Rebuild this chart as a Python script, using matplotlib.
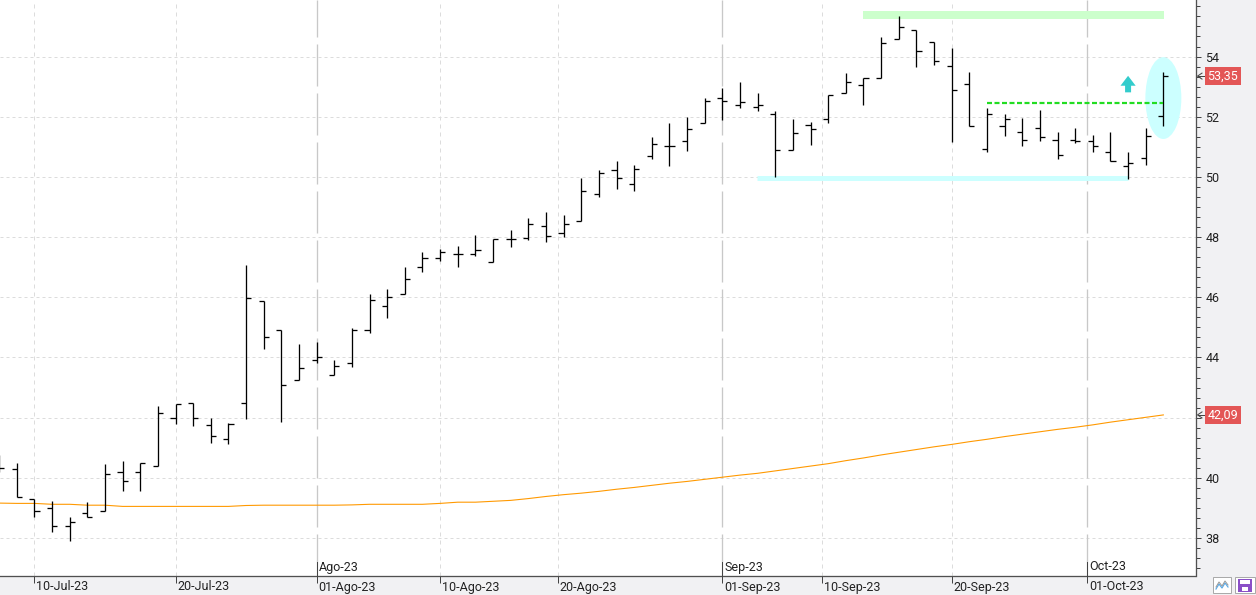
import numpy as np
import pandas as pd
import matplotlib.pyplot as plt
from matplotlib.patches import Rectangle, Ellipse, Polygon
from matplotlib.lines import Line2D
from matplotlib.transforms import blended_transform_factory

plt.rcParams['font.family'] = ['Roboto', 'DejaVu Sans']
plt.rcParams['lines.scale_dashes'] = False

# trading days shown on the chart
dates = pd.bdate_range("2023-07-06", "2023-10-06")

opens = [40.60, 40.29, 39.30, 38.99, 38.39, 38.83, 38.91, 40.19, 40.19, 40.38,
         41.98, 42.47, 41.74, 41.28, 42.47, 45.86, 44.90, 43.24, 43.90, 43.41,
         43.80, 44.90, 45.71, 46.10, 47.00, 47.29, 47.45, 47.45, 47.16, 47.93,
         47.96, 48.36, 48.13, 48.52, 49.42, 50.22, 49.75, 50.68, 51.02, 51.19,
         51.78, 52.62, 52.38, 52.31, 52.10, 50.88, 51.71, 51.91, 52.80, 53.04,
         53.28, 54.57, 54.88, 54.47, 53.68, 53.10, 50.92, 51.68, 51.50, 51.61,
         51.24, 51.24, 51.20, 50.84, 50.35, 50.63, 52.01]
highs = [40.75, 40.50, 39.30, 39.23, 38.69, 39.20, 40.46, 40.56, 40.48, 42.39,
         42.44, 42.47, 41.98, 41.81, 47.07, 45.86, 44.90, 44.44, 44.50, 43.90,
         44.99, 46.11, 46.26, 47.00, 47.49, 47.59, 47.69, 48.06, 47.93, 48.23,
         48.62, 48.82, 48.72, 49.95, 50.22, 50.52, 50.39, 51.32, 51.79, 51.99,
         52.62, 52.96, 53.14, 52.78, 52.20, 51.92, 51.82, 52.71, 53.45, 53.28,
         54.64, 55.35, 54.88, 54.47, 54.27, 53.49, 52.30, 52.08, 51.95, 52.23,
         51.50, 51.63, 51.40, 51.50, 50.84, 51.63, 53.49]
lows = [40.20, 39.37, 38.71, 38.21, 37.91, 38.69, 38.91, 39.57, 39.57, 40.38,
        41.78, 41.73, 41.17, 41.13, 41.94, 44.29, 41.87, 43.24, 43.80, 43.41,
        43.69, 44.80, 45.32, 46.10, 46.85, 47.20, 46.99, 47.37, 47.16, 47.68,
        47.90, 47.85, 48.01, 48.52, 49.32, 49.61, 49.54, 50.61, 50.37, 50.87,
        51.78, 51.89, 52.30, 52.20, 50.01, 50.88, 51.06, 51.80, 52.78, 52.40,
        53.28, 54.57, 53.66, 53.73, 51.17, 51.70, 50.82, 51.37, 51.03, 51.20,
        50.59, 51.12, 50.83, 50.52, 49.93, 50.39, 51.70]
closes = [40.32, 39.37, 38.90, 38.39, 38.52, 38.69, 40.12, 39.89, 40.48, 42.14,
          42.44, 41.98, 41.38, 41.79, 45.96, 44.69, 43.10, 43.64, 44.00, 43.70,
          44.90, 45.90, 46.01, 46.61, 47.29, 47.49, 47.45, 47.57, 47.93, 47.93,
          48.42, 48.03, 48.42, 49.52, 50.12, 49.95, 50.25, 51.08, 51.02, 51.58,
          52.51, 52.51, 52.48, 52.38, 50.91, 51.47, 51.58, 52.71, 53.14, 53.28,
          54.44, 54.97, 54.17, 53.84, 52.89, 51.70, 52.08, 51.92, 51.24, 51.31,
          50.74, 51.20, 51.03, 50.52, 50.45, 51.35, 53.35]
mov_avg = [39.16, 39.15, 39.15, 39.12, 39.12, 39.09, 39.09, 39.05, 39.05, 39.05,
           39.05, 39.05, 39.05, 39.05, 39.08, 39.09, 39.09, 39.09, 39.09, 39.09,
           39.10, 39.12, 39.12, 39.12, 39.12, 39.15, 39.19, 39.19, 39.22, 39.25,
           39.31, 39.38, 39.44, 39.49, 39.55, 39.62, 39.68, 39.75, 39.82, 39.88,
           39.95, 40.02, 40.09, 40.15, 40.23, 40.31, 40.39, 40.47, 40.57, 40.66,
           40.76, 40.85, 40.94, 41.03, 41.11, 41.20, 41.28, 41.37, 41.45, 41.53,
           41.61, 41.68, 41.76, 41.85, 41.93, 42.01, 42.09]

tick_dates = ["2023-07-10", "2023-07-20", "2023-08-01", "2023-08-10", "2023-08-20",
              "2023-09-01", "2023-09-10", "2023-09-20", "2023-10-01"]
tick_labels = ["10-Jul-23", "20-Jul-23", "01-Ago-23", "10-Ago-23", "20-Ago-23",
               "01-Sep-23", "10-Sep-23", "20-Sep-23", "01-Oct-23"]
month_dates = ["2023-08-01", "2023-09-01", "2023-10-01"]
month_labels = ["Ago-23", "Sep-23", "Oct-23"]

# hand drawn marks on the chart
top_band = (55.25, 55.51, "2023-09-13", "2023-10-06")
support = (49.95, "2023-09-05", "2023-10-04")
breakout = (52.45, "2023-09-22", "2023-10-06")
last_price = 53.35
last_ma = 42.09

PX = 0.72  # points per pixel at 100 dpi
W, H = 1256, 595

fig = plt.figure(figsize=(W / 100, H / 100), dpi=100, facecolor="#f1f1f3")
ax = fig.add_axes([0, 19 / H, 1195.5 / W, 576 / H])
ax.set_facecolor("white")

x = np.arange(len(dates))
ords = np.array([d.toordinal() for d in dates])


def to_idx(d):
    return np.interp(pd.Timestamp(d).toordinal(), ords, x)


step = 17.64
x_left = 0.05
ax.set_xlim(x_left, x_left + 1195.5 / step)
ax.set_ylim(36.737, 55.879)

# grid
for v in range(38, 56, 2):
    ax.axhline(v, color="#dcdcdc", lw=1 * PX, dashes=(3 * PX, 3 * PX), zorder=0)
tick_pos = [to_idx(d) for d in tick_dates]
month_pos = [to_idx(d) for d in month_dates]
for p in tick_pos:
    if any(abs(p - m) < 0.01 for m in month_pos):
        ax.axvline(p, color="#c8c8c8", lw=1.3 * PX, dashes=(42 * PX, 7 * PX), zorder=0)
    else:
        ax.axvline(p, color="#dcdcdc", lw=1 * PX, dashes=(4 * PX, 4 * PX), zorder=0)

# annotations drawn by hand
ax.add_patch(Rectangle((to_idx(top_band[2]) - 0.05, top_band[0]),
                       to_idx(top_band[3]) - to_idx(top_band[2]) + 0.1,
                       top_band[1] - top_band[0], fc="#ccffcc", ec="none", zorder=1))
ax.plot([to_idx(support[1]) - 0.05, to_idx(support[2])], [support[0], support[0]],
        color="#ccffff", lw=5 * PX, solid_capstyle="butt", zorder=1)
ax.add_patch(Ellipse((x[-1], 52.62), 2.04, 2.72, fc="#ccffff", ec="none", zorder=1))
cx = x[-3] + 0.0
ax.add_patch(Polygon([(cx - 0.17, 52.81), (cx + 0.17, 52.81), (cx + 0.17, 53.03),
                      (cx + 0.43, 53.03), (cx, 53.36), (cx - 0.43, 53.03),
                      (cx - 0.17, 53.03)], closed=True, fc="#33cccc", ec="none", zorder=1))

# moving average
ax.plot(x, mov_avg, color="#ff9900", lw=1.1 * PX, zorder=2)

# OHLC bars
tw = 0.29
ax.vlines(x, lows, highs, color="black", lw=1.3 * PX, zorder=3)
ax.hlines(opens, x - tw, x, color="black", lw=1.3 * PX, zorder=3)
ax.hlines(closes, x, x + tw, color="black", lw=1.3 * PX, zorder=3)

ax.plot([to_idx(breakout[1]), to_idx(breakout[2])], [breakout[0], breakout[0]],
        color="#22dd22", lw=2.2 * PX, dashes=(5 * PX, 2.5 * PX), zorder=4)

# spines and ticks
for s in ["left", "top"]:
    ax.spines[s].set_visible(False)
for s in ["right", "bottom"]:
    ax.spines[s].set_color("#505050")
    ax.spines[s].set_linewidth(1.3 * PX)

ax.yaxis.tick_right()
ax.set_yticks(np.arange(38, 56, 2))
# 42 sits under the average's price tag
ax.set_yticklabels(["" if v == 42 else str(v) for v in range(38, 56, 2)])
ax.set_yticks(38 + np.arange(-3, 54) / 3, minor=True)
ax.tick_params(axis="y", which="major", length=5 * PX, width=1 * PX, color="#444444",
               labelsize=9, labelcolor="#222222", pad=5 * PX)
ax.tick_params(axis="y", which="minor", length=3.5 * PX, width=1 * PX, color="#444444")

ax.set_xticks(tick_pos)
ax.set_xticklabels([])
ax.tick_params(axis="x", length=7 * PX, width=1 * PX, color="#444444", direction="out")

for p, lab in zip(tick_pos, tick_labels):
    ax.annotate(lab, xy=(p, 0), xycoords=("data", "axes fraction"), xytext=(2, -11),
                textcoords="offset pixels", ha="left", va="center", fontsize=9,
                color="#222222", annotation_clip=False)

trans = blended_transform_factory(ax.transData, ax.transAxes)
for p, lab in zip(month_pos, month_labels):
    ax.plot([p, p], [0, 14 / 576], transform=trans, color="#444444", lw=1 * PX,
            clip_on=False, zorder=5)
    ax.annotate(lab, xy=(p, 0), xycoords=("data", "axes fraction"), xytext=(2, 9),
                textcoords="offset pixels", ha="left", va="center", fontsize=9,
                color="#222222", annotation_clip=False)

# last value tags on the price axis
for val in [last_price, last_ma]:
    txt = f"{val:.2f}".replace(".", ",")
    ax.annotate(txt, xy=(1, val), xycoords=("axes fraction", "data"), xytext=(12, 0),
                textcoords="offset pixels", ha="left", va="center", fontsize=9,
                color="white", annotation_clip=False, zorder=6,
                bbox=dict(boxstyle="square,pad=0.22", fc="#e35656", ec="none"))
    yf = ax.transData.transform((0, val))[1] / H
    fig.add_artist(Line2D([1202 / W, 1197.5 / W, 1202 / W], [yf + 3 / H, yf, yf - 3 / H],
                          color="#444444", lw=1 * PX))
    fig.add_artist(Line2D([1197.5 / W, 1204 / W], [yf, yf], color="#444444", lw=1 * PX))


# small buttons in the corner
def px_rect(x0, y0, x1, y1, **kw):
    fig.add_artist(Rectangle((x0 / W, 1 - y1 / H), (x1 - x0) / W, (y1 - y0) / H,
                             transform=fig.transFigure, **kw))


px_rect(1213, 577, 1231, 593, fc="white", ec="#aaaaaa", lw=1 * PX)
zx = np.array([1216, 1219, 1222, 1225, 1228])
fig.add_artist(Line2D(zx / W, 1 - np.array([589, 584, 588, 583, 587]) / H,
                      color="#5aa9e6", lw=1.2 * PX))
fig.add_artist(Line2D(zx / W, 1 - np.array([587, 582, 586, 581, 585]) / H,
                      color="#9a9a9a", lw=1 * PX))
px_rect(1235, 577, 1255, 593, fc="white", ec="#aaaaaa", lw=1 * PX)
px_rect(1238, 579, 1252, 592, fc="#8a4fc7", ec="none")
px_rect(1240, 580, 1250, 584, fc="white", ec="none")
px_rect(1242, 587, 1248, 591, fc="white", ec="none")

plt.savefig("out.png", dpi=100, facecolor=fig.get_facecolor())
